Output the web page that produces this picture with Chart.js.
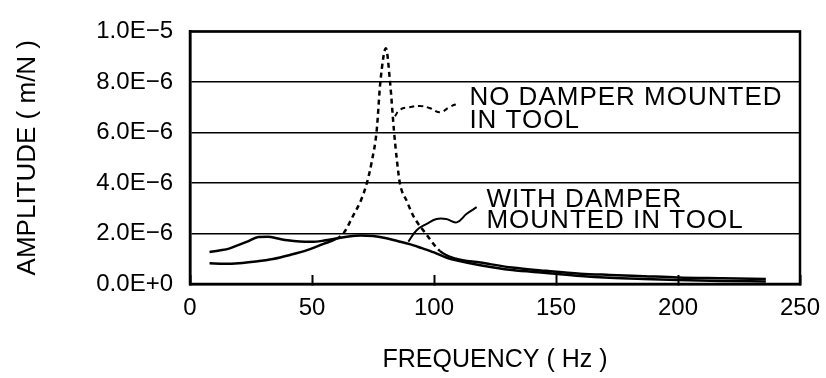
<!DOCTYPE html>
<html lang="en">
<head>
  <title>Amplitude vs Frequency</title>
  <meta charset="utf-8">
  <script src="https://cdn.jsdelivr.net/npm/chart.js@4.4.1/dist/chart.umd.min.js"></script>
  <style>
    html, body { margin: 0; padding: 0; background: #fff; }
    #wrap { width: 826px; height: 378px; position: relative; }
  </style>
</head>
<body>

<div id="wrap">
  <canvas id="ampChart"></canvas>
</div>

<script>
  // amplitudes are read in units of 1e-6 m/N
  const UNIT = 1e-6;

  // no damper mounted in tool
  const freqNoDamper = [8, 14, 20, 27, 34, 41, 48, 55, 60, 63, 67, 70, 72.5, 74.5, 76.5, 78, 80.3, 82, 83.6, 84.8, 86, 89, 91.5, 97, 102.5, 109, 119, 132, 146, 160, 172, 186, 200, 218, 236];
  const ampNoDamper = [0.82, 0.80, 0.82, 0.89, 0.99, 1.15, 1.34, 1.60, 1.79, 2.02, 2.73, 3.30, 4.00, 4.85, 6.06, 7.98, 9.33, 7.98, 6.06, 4.90, 4.00, 3.25, 2.70, 1.95, 1.30, 1.00, 0.85, 0.65, 0.52, 0.41, 0.36, 0.31, 0.26, 0.23, 0.20];

  // with damper mounted in tool
  const freqWithDamper = [8, 12, 16, 20, 24, 28, 32, 36, 40, 45, 50, 55, 60, 65, 70, 75, 80, 85, 90, 95, 100, 105, 110, 119, 132, 146, 160, 172, 186, 200, 218, 236];
  const ampWithDamper = [1.27, 1.33, 1.40, 1.55, 1.70, 1.86, 1.87, 1.80, 1.73, 1.68, 1.67, 1.72, 1.80, 1.88, 1.92, 1.90, 1.82, 1.70, 1.58, 1.42, 1.25, 1.05, 0.92, 0.74, 0.55, 0.44, 0.32, 0.25, 0.20, 0.16, 0.12, 0.10];

  // leader lines from the labels to the curves
  const leaderNoFreq = [84, 86, 90, 94.3, 98.4, 102.5, 106.6, 110];
  const leaderNoAmp = [6.64, 6.90, 7.00, 7.05, 6.96, 6.80, 7.02, 7.15];
  const leaderWithFreq = [89.5, 92.9, 97, 101, 105, 109.3, 113.4, 117.5];
  const leaderWithAmp = [1.68, 2.13, 2.38, 2.57, 2.57, 2.44, 2.78, 3.04];

  const xTicks = [0, 50, 100, 150, 200, 250];
  const yTicks = [0, 2e-6, 4e-6, 6e-6, 8e-6, 1e-5];

  const labelNo = ["NO DAMPER MOUNTED", "IN TOOL"];
  const labelWith = ["WITH DAMPER", "MOUNTED IN TOOL"];

  function toPoints(xs, ys) {
    return xs.map((x, i) => ({ x: x, y: ys[i] * UNIT }));
  }

  const FONT = "'Liberation Sans', Arial, sans-serif";

  // draws the box round the plot and the curve labels
  const framePlugin = {
    id: 'frame',
    afterDatasetsDraw(chart, args, opts) {
      const ctx = chart.ctx;
      const a = chart.chartArea;
      ctx.save();
      ctx.strokeStyle = '#000';
      ctx.lineWidth = 2.5;
      ctx.strokeRect(a.left, a.top, a.right - a.left, a.bottom - a.top);
      ctx.fillStyle = '#000';
      ctx.font = '26px ' + FONT;
      ctx.letterSpacing = '1px';
      ctx.textBaseline = 'alphabetic';
      ctx.textAlign = 'left';
      opts.notes.forEach(n => {
        const px = chart.scales.x.getPixelForValue(n.x);
        const py = chart.scales.y.getPixelForValue(n.y);
        n.lines.forEach((t, i) => ctx.fillText(t, px, py + i * n.gap));
      });
      ctx.restore();
    }
  };

  new Chart('ampChart', {
    type: 'line',
    data: {
      datasets: [
        {
          label: 'No damper',
          data: toPoints(freqNoDamper, ampNoDamper),
          borderColor: '#000',
          borderWidth: 2.5,
          pointRadius: 0,
          cubicInterpolationMode: 'monotone',
          segment: {
            borderDash: c => (c.p0.parsed.x >= 60 && c.p1.parsed.x <= 103) ? [5, 4] : undefined
          }
        },
        {
          label: 'With damper',
          data: toPoints(freqWithDamper, ampWithDamper),
          borderColor: '#000',
          borderWidth: 2.5,
          pointRadius: 0,
          cubicInterpolationMode: 'monotone'
        },
        {
          label: 'leader no',
          data: toPoints(leaderNoFreq, leaderNoAmp),
          borderColor: '#000',
          borderWidth: 2,
          borderDash: [5, 4],
          pointRadius: 0,
          tension: 0.4
        },
        {
          label: 'leader with',
          data: toPoints(leaderWithFreq, leaderWithAmp),
          borderColor: '#000',
          borderWidth: 2,
          pointRadius: 0,
          tension: 0.4
        }
      ]
    },
    options: {
      responsive: true,
      maintainAspectRatio: false,
      animation: false,
      layout: { padding: { left: 0, right: 26, top: 23, bottom: 0 } },
      plugins: {
        legend: { display: false },
        tooltip: { enabled: false },
        frame: {
          notes: [
            { lines: labelNo, x: 114.5, y: 7.1e-6, gap: 23 },
            { lines: labelWith, x: 121.5, y: 3.04e-6, gap: 21 }
          ]
        }
      },
      scales: {
        x: {
          type: 'linear',
          min: 0,
          max: 250,
          afterBuildTicks: s => { s.ticks = xTicks.map(v => ({ value: v })); },
          afterFit: s => { s.height = 94; s.paddingLeft = 0; s.paddingRight = 0; },
          border: { display: true, color: '#000', width: 2.5 },
          grid: { drawOnChartArea: false, drawTicks: true, tickLength: -9, tickWidth: 2, tickColor: '#000' },
          ticks: { color: '#000', padding: 19, font: { family: FONT, size: 24 } },
          title: {
            display: true,
            text: 'FREQUENCY ( Hz )',
            color: '#000',
            font: { family: FONT, size: 25 },
            padding: { top: 0, bottom: 3 }
          }
        },
        y: {
          min: 0,
          max: 1e-5,
          afterBuildTicks: s => { s.ticks = yTicks.map(v => ({ value: v })); },
          afterFit: s => { s.width = 190; },
          border: { display: true, color: '#000', width: 2.5 },
          grid: { color: '#000', lineWidth: 1.5, drawTicks: false },
          ticks: {
            color: '#000',
            padding: 17,
            font: { family: FONT, size: 24 },
            callback: v => v.toExponential(1).toUpperCase().replace('-', '\u2212')
          },
          title: {
            display: true,
            text: 'AMPLITUDE ( m/N )',
            color: '#000',
            font: { family: FONT, size: 26 },
            padding: { top: 12, bottom: 0 }
          }
        }
      }
    },
    plugins: [framePlugin]
  });
</script>
</body>
</html>
